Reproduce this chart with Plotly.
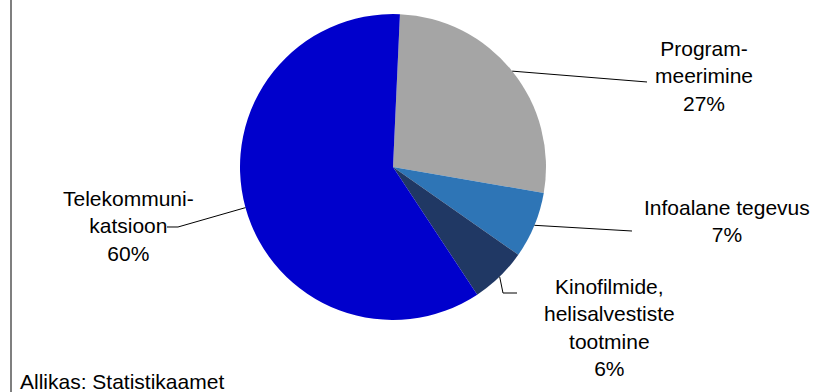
import math
import plotly.graph_objects as go

# ---- data ----
categories = ["Program-<br>meerimine", "Infoalane tegevus", "Kinofilmide,<br>helisalvestiste<br>tootmine", "Telekommuni-<br>katsioon"]
shares = [27, 7, 6, 60]
colors = ["#A5A5A5", "#2E75B6", "#203864", "#0000CC"]
source_note = "Allikas: Statistikaamet"

# ---- layout constants (pixels) ----
W, H = 819, 392
CX, CY, R = 393, 167, 153
ROT = 2.6
FONT = "Liberation Sans"
FS = 21

def px(x, y):
    return x / W, 1 - y / H

fig = go.Figure(go.Pie(
    labels=[c.replace("<br>", " ") for c in categories],
    values=shares,
    sort=False,
    direction="clockwise",
    rotation=ROT,
    marker=dict(colors=colors, line=dict(width=0)),
    textinfo="none",
    hoverinfo="label+percent",
    showlegend=False,
    domain=dict(x=[(CX - R) / W, (CX + R) / W], y=[1 - (CY + R) / H, 1 - (CY - R) / H]),
))

# label placement (text centre) and leader-line end points, in pixels
label_pos = [(704, 76), (727, 221), (609, 327), (128, 226)]
leader_ends = [
    [(647, 82)],
    [(632, 231)],
    [(503, 293), (517, 293)],
    [(178, 227), (167, 227)],
]

total = sum(shares)
cum = 0
shapes = []
annotations = []
for i, v in enumerate(shares):
    mid = ROT + (cum + v / 2) / total * 360
    cum += v
    a = math.radians(mid)
    sx = CX + R * math.sin(a)
    sy = CY - R * math.cos(a)
    pts = [(sx, sy)] + leader_ends[i]
    path = ""
    for j, (x, y) in enumerate(pts):
        fx, fy = px(x, y)
        path += ("M" if j == 0 else " L") + f" {fx:.5f},{fy:.5f}"
    shapes.append(dict(type="path", xref="paper", yref="paper", path=path,
                       line=dict(color="black", width=1)))
    lx, ly = px(*label_pos[i])
    annotations.append(dict(
        x=lx, y=ly, xref="paper", yref="paper", xanchor="center", yanchor="middle",
        text=f"{categories[i]}<br>{round(v / total * 100)}%", showarrow=False,
        align="center", font=dict(family=FONT, size=FS, color="black"),
    ))

# left frame edge
shapes.append(dict(type="line", xref="paper", yref="paper",
                   x0=11 / W, x1=11 / W, y0=0, y1=1,
                   line=dict(color="#7F7F7F", width=2)))

sx, sy = px(18, 381)
annotations.append(dict(x=sx, y=sy, xref="paper", yref="paper", xanchor="left", yanchor="middle",
                        text=source_note, showarrow=False,
                        font=dict(family=FONT, size=FS, color="black")))

fig.update_layout(
    width=W, height=H,
    margin=dict(l=0, r=0, t=0, b=0),
    paper_bgcolor="white", plot_bgcolor="white",
    shapes=shapes, annotations=annotations,
)

fig.write_html(
    "out.html",
    config={"displayModeBar": False},
    post_script="document.body.style.margin='0';document.body.style.overflow='hidden';",
)
